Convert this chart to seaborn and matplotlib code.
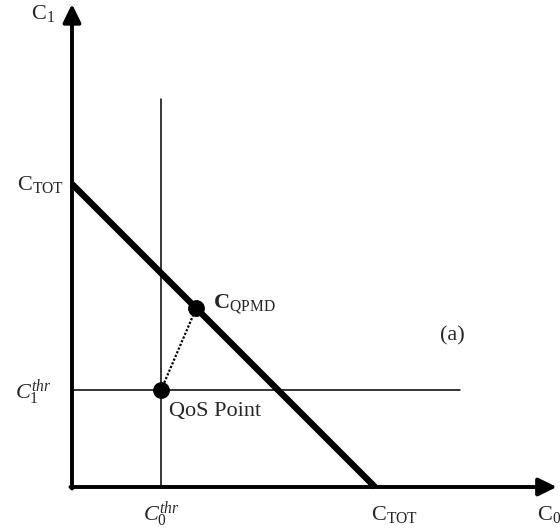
import matplotlib
matplotlib.use("Agg")
import matplotlib.pyplot as plt
import seaborn as sns
import pandas as pd

# Capacity region values (C_TOT normalised to 1)
C_TOT = 1.0
C0_THR = 0.294
C1_THR = 0.32
QOS_POINT = [C0_THR, C1_THR]
C_QPMD = [0.41, 0.59]
THR_EXTENT = 1.28          # how far the threshold lines reach
AXIS_X_END = 1.60
AXIS_Y_END = 1.594

sns.set_style("white")
plt.rcParams["font.family"] = ["Liberation Serif", "DejaVu Serif"]
plt.rcParams["mathtext.fontset"] = "custom"
plt.rcParams["mathtext.rm"] = "Liberation Serif"
plt.rcParams["mathtext.it"] = "Liberation Serif:italic"
plt.rcParams["mathtext.bf"] = "Liberation Serif:bold"

fig = plt.figure(figsize=(5.6, 5.31), dpi=100)
ax = fig.add_axes([0, 0, 1, 1])
ax.set_xlim(-0.2376, 1.6106)
ax.set_ylim(-0.1452, 1.6073)
ax.axis("off")

# threshold lines
sns.lineplot(x=[C0_THR, C0_THR], y=[0, THR_EXTENT], ax=ax, color="black",
             lw=1.1, sort=False, estimator=None)
sns.lineplot(x=[0, THR_EXTENT], y=[C1_THR, C1_THR], ax=ax, color="black",
             lw=1.1, sort=False, estimator=None)

# total capacity constraint C0 + C1 = C_TOT
tot = pd.DataFrame({"c0": [0, C_TOT], "c1": [C_TOT, 0]})
sns.lineplot(data=tot, x="c0", y="c1", ax=ax, color="black", lw=4.6,
             sort=False, estimator=None, solid_capstyle="butt")

# dotted link from QoS point to C_QPMD
sns.lineplot(x=[QOS_POINT[0], C_QPMD[0]], y=[QOS_POINT[1], C_QPMD[1]], ax=ax,
             color="black", lw=1.6, linestyle=(0, (1, 0.8)), sort=False,
             estimator=None)

sns.scatterplot(x=[QOS_POINT[0], C_QPMD[0]], y=[QOS_POINT[1], C_QPMD[1]],
                ax=ax, color="black", s=125, edgecolor="black", zorder=5)

# axes with arrow heads
arrow = dict(arrowstyle="-|>,head_length=0.55,head_width=0.27", lw=2.8,
             color="black", shrinkA=0, shrinkB=0, mutation_scale=20)
ax.annotate("", xy=(0, AXIS_Y_END), xytext=(0, -0.005), arrowprops=arrow)
ax.annotate("", xy=(AXIS_X_END, 0), xytext=(-0.005, 0), arrowprops=arrow)

fs = 16
# axis labels
ax.annotate(r"$\mathrm{C}_1$", xy=(0, AXIS_Y_END), xytext=(-12, -11),
            textcoords="offset points", ha="right", va="baseline", fontsize=fs)
ax.annotate(r"$\mathrm{C}_0$", xy=(AXIS_X_END, 0), xytext=(-14, -24),
            textcoords="offset points", ha="left", va="baseline", fontsize=fs)
ax.annotate(r"$\mathrm{C}_{\mathrm{TOT}}$", xy=(0, C_TOT), xytext=(-6, -4),
            textcoords="offset points", ha="right", va="baseline", fontsize=fs)
ax.annotate(r"$\mathrm{C}_{\mathrm{TOT}}$", xy=(C_TOT, 0), xytext=(14, -24),
            textcoords="offset points", ha="center", va="baseline", fontsize=fs)
ax.annotate(r"$C_1^{thr}$", xy=(0, C1_THR), xytext=(-15, -6),
            textcoords="offset points", ha="right", va="baseline", fontsize=fs)
ax.annotate(r"$C_0^{thr}$", xy=(C0_THR, 0), xytext=(0, -24),
            textcoords="offset points", ha="center", va="baseline", fontsize=fs)

# point labels
ax.annotate("QoS Point", xy=QOS_POINT, xytext=(6, -19),
            textcoords="offset points", ha="left", va="baseline", fontsize=fs)
ax.annotate(r"$\mathbf{C}_{\mathrm{QPMD}}$", xy=C_QPMD, xytext=(12, 0),
            textcoords="offset points", ha="left", va="baseline", fontsize=fs)
ax.text(1.254, 0.485, "(a)", ha="center", va="baseline", fontsize=fs)

fig.savefig("out.png", dpi=100, facecolor="white")
